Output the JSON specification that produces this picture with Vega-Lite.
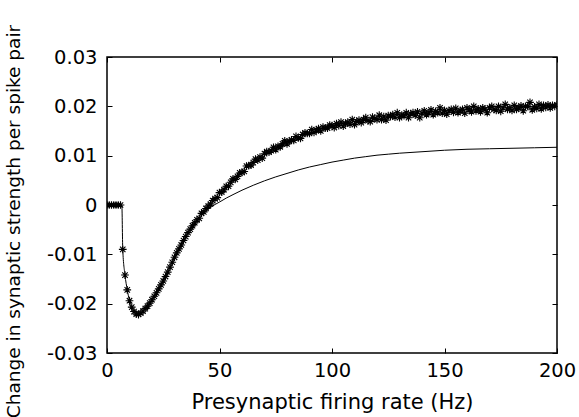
{
  "$schema": "https://vega.github.io/schema/vega-lite/v6.json",
  "width": 450,
  "height": 296,
  "autosize": {"type": "none"},
  "padding": {"left": 107, "top": 57, "right": 22, "bottom": 64},
  "background": "white",
  "config": {
    "view": {"stroke": "black", "strokeWidth": 1.5},
    "axis": {
      "labelFont": "DejaVu Sans",
      "labelFontSize": 19.5,
      "labelColor": "black",
      "titleFont": "DejaVu Sans",
      "titleFontSize": 21,
      "titleFontWeight": "normal",
      "titleColor": "black",
      "tickColor": "black",
      "domainColor": "black",
      "grid": false,
      "tickSize": -5,
      "tickWidth": 1
    }
  },
  "datasets": {
    "pts": [
      {"f":0,"v":0},{"f":1,"v":0},{"f":2,"v":0},{"f":3,"v":0},{"f":4,"v":0},{"f":5,"v":0},{"f":6,"v":0},
      {"f":7,"v":-0.009},{"f":8,"v":-0.0142},{"f":9,"v":-0.0172},{"f":10,"v":-0.0194},{"f":11,"v":-0.0207},
      {"f":12,"v":-0.0216},{"f":13,"v":-0.0221},{"f":14,"v":-0.0222},{"f":15,"v":-0.0219},{"f":16,"v":-0.0215},
      {"f":17,"v":-0.021},{"f":18,"v":-0.0205},{"f":19,"v":-0.0199},{"f":20,"v":-0.0192},{"f":21,"v":-0.0185},
      {"f":22,"v":-0.0178},{"f":23,"v":-0.017},{"f":24,"v":-0.0162},{"f":25,"v":-0.0154},{"f":26,"v":-0.0145},
      {"f":27,"v":-0.0136},{"f":28,"v":-0.0126},{"f":29,"v":-0.0116},{"f":30,"v":-0.0106},{"f":31,"v":-0.0097},
      {"f":32,"v":-0.0089},{"f":33,"v":-0.0081},{"f":34,"v":-0.0072},{"f":35,"v":-0.0064},{"f":36,"v":-0.0056},
      {"f":37,"v":-0.0049},{"f":38,"v":-0.0042},{"f":39,"v":-0.0036},{"f":40,"v":-0.003},{"f":41,"v":-0.0027},
      {"f":42,"v":-0.0017},{"f":43,"v":-0.0014},{"f":44,"v":-0.0007},{"f":45,"v":-0.0002},{"f":46,"v":0.0002},
      {"f":47,"v":0.0009},{"f":48,"v":0.0013},{"f":49,"v":0.0015},{"f":50,"v":0.0025},{"f":51,"v":0.0026},
      {"f":52,"v":0.0031},{"f":53,"v":0.0038},{"f":54,"v":0.0038},{"f":55,"v":0.0046},{"f":56,"v":0.0053},
      {"f":57,"v":0.0052},{"f":58,"v":0.0058},{"f":59,"v":0.0065},{"f":60,"v":0.0066},{"f":61,"v":0.0068},
      {"f":62,"v":0.0079},{"f":63,"v":0.008},{"f":64,"v":0.0081},{"f":65,"v":0.0086},{"f":66,"v":0.0093},
      {"f":67,"v":0.0091},{"f":68,"v":0.0097},{"f":69,"v":0.0095},{"f":70,"v":0.0104},{"f":71,"v":0.0108},
      {"f":72,"v":0.0107},{"f":73,"v":0.011},{"f":74,"v":0.0117},{"f":75,"v":0.0112},{"f":76,"v":0.0119},
      {"f":77,"v":0.0118},{"f":78,"v":0.0124},{"f":79,"v":0.013},{"f":80,"v":0.0124},{"f":81,"v":0.0129},
      {"f":82,"v":0.0132},{"f":83,"v":0.0131},{"f":84,"v":0.0139},{"f":85,"v":0.0136},{"f":86,"v":0.0135},
      {"f":87,"v":0.0143},{"f":88,"v":0.0146},{"f":89,"v":0.0145},{"f":90,"v":0.0145},{"f":91,"v":0.0153},
      {"f":92,"v":0.0147},{"f":93,"v":0.0152},{"f":94,"v":0.0155},{"f":95,"v":0.015},{"f":96,"v":0.0158},
      {"f":97,"v":0.0156},{"f":98,"v":0.0156},{"f":99,"v":0.0162},
      {"f":100,"v":0.0161},{"f":101,"v":0.0157},{"f":102,"v":0.0165},{"f":103,"v":0.0161},{"f":104,"v":0.0168},
      {"f":105,"v":0.016},{"f":106,"v":0.0165},{"f":107,"v":0.0168},{"f":108,"v":0.0164},{"f":109,"v":0.0173},
      {"f":110,"v":0.0163},{"f":111,"v":0.0169},{"f":112,"v":0.0172},{"f":113,"v":0.0167},{"f":114,"v":0.0173},
      {"f":115,"v":0.0177},{"f":116,"v":0.0171},{"f":117,"v":0.0169},{"f":118,"v":0.0178},{"f":119,"v":0.0175},
      {"f":120,"v":0.0173},{"f":121,"v":0.0182},{"f":122,"v":0.0173},{"f":123,"v":0.0179},{"f":124,"v":0.0172},
      {"f":125,"v":0.0181},{"f":126,"v":0.0179},{"f":127,"v":0.0183},{"f":128,"v":0.0178},{"f":129,"v":0.0187},
      {"f":130,"v":0.0177},{"f":131,"v":0.0182},{"f":132,"v":0.0181},{"f":133,"v":0.0187},{"f":134,"v":0.0177},
      {"f":135,"v":0.0185},{"f":136,"v":0.0187},{"f":137,"v":0.0182},{"f":138,"v":0.0189},{"f":139,"v":0.0177},
      {"f":140,"v":0.0186},{"f":141,"v":0.0191},{"f":142,"v":0.0183},{"f":143,"v":0.0187},{"f":144,"v":0.0193},
      {"f":145,"v":0.0183},{"f":146,"v":0.019},{"f":147,"v":0.0187},{"f":148,"v":0.0197},{"f":149,"v":0.0186},
      {"f":150,"v":0.0192},{"f":151,"v":0.0184},{"f":152,"v":0.0191},{"f":153,"v":0.0194},{"f":154,"v":0.0188},
      {"f":155,"v":0.0196},{"f":156,"v":0.0187},{"f":157,"v":0.0191},{"f":158,"v":0.0194},{"f":159,"v":0.0186},
      {"f":160,"v":0.0197},{"f":161,"v":0.0193},{"f":162,"v":0.0189},{"f":163,"v":0.02},{"f":164,"v":0.0191},
      {"f":165,"v":0.0195},{"f":166,"v":0.0189},{"f":167,"v":0.0197},{"f":168,"v":0.0194},{"f":169,"v":0.0187},
      {"f":170,"v":0.0197},{"f":171,"v":0.02},{"f":172,"v":0.0194},{"f":173,"v":0.0192},{"f":174,"v":0.02},
      {"f":175,"v":0.019},{"f":176,"v":0.0197},{"f":177,"v":0.0204},{"f":178,"v":0.0194},{"f":179,"v":0.0197},
      {"f":180,"v":0.0192},{"f":181,"v":0.0202},{"f":182,"v":0.0194},{"f":183,"v":0.0197},{"f":184,"v":0.0201},
      {"f":185,"v":0.0191},{"f":186,"v":0.02},{"f":187,"v":0.02},{"f":188,"v":0.0208},{"f":189,"v":0.0193},
      {"f":190,"v":0.0199},{"f":191,"v":0.0196},{"f":192,"v":0.0204},{"f":193,"v":0.0195},{"f":194,"v":0.0202},
      {"f":195,"v":0.0198},{"f":196,"v":0.0203},{"f":197,"v":0.0197},{"f":198,"v":0.0202},{"f":199,"v":0.02},
      {"f":200,"v":0.0203}
    ],
    "fit": [
      {"f":0,"v":0},{"f":3,"v":0},{"f":6,"v":0},{"f":6.6,"v":0},{"f":7,"v":-0.009},{"f":8,"v":-0.0142},
      {"f":9,"v":-0.0172},{"f":10,"v":-0.0194},{"f":11,"v":-0.0207},{"f":12,"v":-0.0216},{"f":13,"v":-0.0221},
      {"f":14,"v":-0.0222},{"f":15,"v":-0.0219},{"f":16,"v":-0.0215},{"f":17,"v":-0.021},{"f":18,"v":-0.0205},
      {"f":19,"v":-0.0199},{"f":20,"v":-0.0192},{"f":22,"v":-0.0178},{"f":24,"v":-0.0162},{"f":26,"v":-0.0145},
      {"f":28,"v":-0.0126},{"f":30,"v":-0.0106},{"f":32,"v":-0.0089},{"f":34,"v":-0.0072},{"f":36,"v":-0.0056},
      {"f":38,"v":-0.0042},{"f":40,"v":-0.003},{"f":42,"v":-0.002},{"f":44,"v":-0.0012},{"f":46,"v":-0.0005},
      {"f":48,"v":0.0001},{"f":50,"v":0.0006},{"f":53,"v":0.0014},{"f":56,"v":0.0021},{"f":60,"v":0.003},
      {"f":65,"v":0.004},{"f":70,"v":0.0049},{"f":75,"v":0.0057},{"f":80,"v":0.0064},{"f":85,"v":0.0071},
      {"f":90,"v":0.0077},{"f":95,"v":0.0082},{"f":100,"v":0.0087},{"f":105,"v":0.0091},{"f":110,"v":0.0095},
      {"f":115,"v":0.0098},{"f":120,"v":0.0101},{"f":125,"v":0.0103},{"f":130,"v":0.0105},{"f":140,"v":0.0108},
      {"f":150,"v":0.0111},{"f":160,"v":0.0113},{"f":170,"v":0.0114},{"f":180,"v":0.0115},{"f":190,"v":0.0116},
      {"f":200,"v":0.0117}
    ]
  },
  "layer": [
    {
      "data": {"name": "pts"},
      "mark": {
        "type": "point",
        "shape": "M-1,0H1M0,-1V1M-0.7,-0.7L0.7,0.7M-0.7,0.7L0.7,-0.7",
        "size": 60,
        "filled": false,
        "stroke": "black",
        "strokeWidth": 1.1,
        "opacity": 1,
        "clip": true
      },
      "encoding": {
        "x": {
          "field": "f", "type": "quantitative",
          "scale": {"domain": [0, 200], "nice": false, "zero": false},
          "axis": {
            "orient": "bottom",
            "values": [0, 50, 100, 150, 200],
            "title": "Presynaptic firing rate (Hz)",
            "labelPadding": 13,
            "titlePadding": 12,
            "domain": false,
            "labelFlush": false
          }
        },
        "y": {
          "field": "v", "type": "quantitative",
          "scale": {"domain": [-0.03, 0.03], "nice": false, "zero": false},
          "axis": {
            "orient": "left",
            "values": [-0.03, -0.02, -0.01, 0, 0.01, 0.02, 0.03],
            "labelExpr": "datum.value == 0 ? '0' : (datum.value < 0 ? '-' + format(-datum.value, '.2f') : format(datum.value, '.2f'))",
            "title": "Change in synaptic strength per spike pair",
            "titleFontSize": 18.5,
            "labelPadding": 15,
            "titlePadding": 23,
            "titleY": 164,
            "domain": false,
            "labelFlush": false
          }
        }
      }
    },
    {
      "data": {"name": "fit"},
      "mark": {"type": "line", "color": "black", "strokeWidth": 1, "interpolate": "monotone", "clip": true},
      "encoding": {
        "x": {
          "field": "f", "type": "quantitative",
          "scale": {"domain": [0, 200], "nice": false, "zero": false},
          "axis": {
            "orient": "top",
            "values": [0, 50, 100, 150, 200],
            "labels": false,
            "title": null,
            "domain": false
          }
        },
        "y": {
          "field": "v", "type": "quantitative",
          "scale": {"domain": [-0.03, 0.03], "nice": false, "zero": false},
          "axis": {
            "orient": "right",
            "values": [-0.03, -0.02, -0.01, 0, 0.01, 0.02, 0.03],
            "labels": false,
            "title": null,
            "domain": false
          }
        }
      }
    }
  ],
  "resolve": {"axis": {"x": "independent", "y": "independent"}}
}
